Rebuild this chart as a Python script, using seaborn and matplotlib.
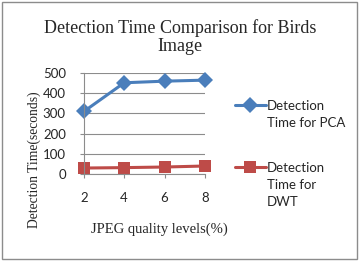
import pandas as pd
import numpy as np
import matplotlib.pyplot as plt
import matplotlib.patches as mpatches
import seaborn as sns

## JPEG quality levels and detection times
levels = [2, 4, 6, 8]
pca_times = [310, 452, 460, 465]
dwt_times = [30, 32, 35, 40]
series_labels = ["Detection\nTime for PCA", "Detection\nTime for\nDWT"]

df = pd.DataFrame({
    "level": levels * 2,
    "time": pca_times + dwt_times,
    "method": [series_labels[0]] * 4 + [series_labels[1]] * 4,
})

sns.set_style("white")
plt.rcParams["font.family"] = ["Lato", "DejaVu Sans"]

fig = plt.figure(figsize=(3.6, 2.61), dpi=100)
ax = fig.add_axes([0.233, 0.333, 0.336, 0.387])

palette = {series_labels[0]: "#4A7EBB", series_labels[1]: "#BE4B48"}
markers = {series_labels[0]: "D", series_labels[1]: "s"}
sns.lineplot(data=df, x="level", y="time", hue="method", style="method",
             palette=palette, markers=markers, dashes=False, linewidth=2.2,
             markersize=8, markeredgewidth=0, ax=ax, clip_on=False)

ax.set_xlim(2, 8)
ax.set_ylim(0, 500)
ax.set_xticks(levels)
ax.set_yticks(range(0, 501, 100))
ax.grid(axis="y", color="#8c8c8c", linewidth=0.8)
for s in ["top", "right"]:
    ax.spines[s].set_visible(False)
ax.spines["left"].set_color("#8c8c8c")
ax.spines["bottom"].set_color("#8c8c8c")
ax.tick_params(axis="both", labelsize=9.5, length=3, color="#8c8c8c")
ax.tick_params(axis="x", direction="out", bottom=True, pad=10)
ax.tick_params(axis="y", left=True, pad=10)
ax.set_axisbelow(True)

serif = ["Liberation Serif", "DejaVu Serif"]
ax.set_xlabel("JPEG quality levels(%)", family=serif, fontsize=10.5)
ax.set_ylabel("Detection Time(seconds)", family=serif, fontsize=9.8)
ax.xaxis.set_label_coords(0.62, -0.475)
ax.yaxis.set_label_coords(-0.355, 0.14)
fig.text(0.5, 0.857, "Detection Time Comparison for Birds\nImage", family=serif,
         fontsize=13, ha="center", va="center", linespacing=1.05)

handles, labels = ax.get_legend_handles_labels()
leg = ax.legend(handles, labels, loc="upper left", bbox_to_anchor=(0.635, 0.642),
                bbox_transform=fig.transFigure, frameon=False, fontsize=9.5,
                handlelength=2.3, handletextpad=0.1, labelspacing=2.5,
                borderpad=0)
for t in leg.get_texts():
    t.set_linespacing(1.5)
# put each legend line next to the first row of its label
for col in leg._legend_handle_box.get_children():
    for item in col.get_children():
        item.align = "top"

fig.patches.append(mpatches.Rectangle((0.006, 0.008), 0.986, 0.984, transform=fig.transFigure,
                                      fill=False, edgecolor="#8c8c8c", linewidth=1))

fig.savefig("out.png", dpi=100)
